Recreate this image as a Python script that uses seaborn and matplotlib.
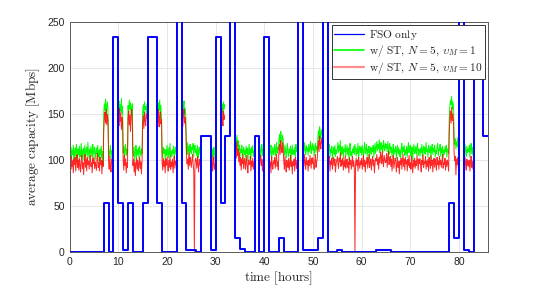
import numpy as np
import pandas as pd
import matplotlib
matplotlib.use('Agg')
import matplotlib.pyplot as plt
from matplotlib.lines import Line2D
import seaborn as sns

N = None
gap = [N] * 8  # one hour not shown

# FSO only capacity, one value per hour (steps), 400 = above the plotted range
fso_hourly = [0, 0, 0, 0, 0, 0, 0, 53, 0, 233,
              53, 3, 53, 0, 0, 53, 233, 233, 53, 0,
              0, 0, 400, 53, 3, 3, 0, 126, 126, 3,
              233, 53, 126, 400, 16, 4, 0, 0, 126, 0,
              233, 0, 0, 16, 0, 0, 0, 400, 3, 3,
              3, 16, 400, 0, 0, 3, 0, 0, 0, 0,
              0, 0, 0, 3, 3, 3, 0, 0, 0, 0,
              0, 0, 0, 0, 0, 0, 0, 0, 53, 16,
              400, 3, 0, 233, 233, 126]

# w/ ST, N=5, v_M=1 -- eight samples per hour, one row per hour
green_vals = [
    0, 109, 114, 103, 111, 106, 116, 101,       # 0 h
    108, 113, 104, 117, 110, 99, 112, 106,
    115, 103, 109, 118, 105, 111, 100, 113,
    107, 116, 102, 110, 114, 104, 119, 108,
    101, 112, 106, 115, 109, 103, 117, 111,
    105, 114, 108, 100, 113, 107, 116, 104,
    110, 98, 112, 106, 115, 102, 109, 95,
    150, 161, 154, 166, 148, 158, 163, 152,
    112, 104, 109, 116, 101, 110, 106, 113,
    *gap,
    156, 164, 149, 160, 153, 167, 151, 158,     # 10 h
    108, 115, 103, 111, 117, 105, 112, 107,
    159, 151, 165, 155, 162, 148, 157, 161,
    110, 104, 114, 99, 108, 116, 102, 111,
    106, 113, 101, 115, 109, 104, 112, 107,
    152, 160, 147, 163, 155, 158, 150, 161,
    *gap,
    *gap,
    157, 149, 162, 154, 165, 151, 159, 146,
    109, 103, 114, 107, 112, 100, 111, 105,
    116, 108, 102, 113, 106, 118, 104, 110,     # 20 h
    103, 111, 107, 115, 101, 109, 114, 106,
    *gap,
    153, 161, 148, 158, 164, 150, 156, 146,
    113, 106, 119, 109, 115, 104, 117, 110,
    107, 114, 111, 118, 103, 112, 116, 108,
    111, 105, 116, 102, 110, 114, 106, 112,
    *gap,
    *gap,
    109, 116, 104, 112, 100, 114, 107, 103,
    *gap,                                       # 30 h
    158, 166, 152, 161, 149, 163, 155, 160,
    *gap,
    *gap,
    118, 124, 112, 127, 115, 121, 110, 116,
    104, 112, 108, 116, 101, 110, 114, 106,
    111, 103, 115, 107, 113, 99, 109, 117,
    106, 112, 101, 114, 108, 116, 104, 110,
    *gap,
    107, 115, 102, 111, 117, 105, 112, 109,
    *gap,                                       # 40 h
    113, 104, 110, 116, 101, 108, 114, 106,
    109, 117, 105, 112, 119, 107, 114, 111,
    121, 128, 116, 131, 124, 119, 127, 122,
    113, 105, 116, 109, 102, 111, 118, 107,
    104, 112, 108, 115, 100, 110, 116, 106,
    111, 106, 114, 103, 117, 109, 112, 105,
    *gap,
    115, 108, 119, 111, 106, 116, 110, 113,
    105, 117, 109, 114, 120, 107, 112, 118,
    110, 116, 104, 113, 118, 108, 115, 111,     # 50 h
    125, 132, 121, 136, 128, 123, 133, 127,
    *gap,
    114, 106, 111, 117, 103, 112, 108, 115,
    101, 109, 114, 106, 116, 104, 111, 107,
    112, 119, 108, 116, 110, 121, 105, 114,
    107, 115, 102, 112, 109, 117, 104, 110,
    116, 106, 113, 100, 111, 118, 105, 109,
    103, 112, 108, 115, 106, 117, 110, 104,
    113, 107, 118, 102, 111, 115, 108, 114,
    105, 116, 110, 103, 113, 119, 107, 111,     # 60 h
    117, 104, 112, 108, 115, 101, 110, 114,
    106, 113, 109, 116, 103, 111, 118, 107,
    114, 120, 110, 117, 112, 122, 108, 116,
    119, 111, 116, 108, 121, 114, 110, 118,
    113, 117, 109, 120, 112, 106, 118, 115,
    108, 114, 103, 111, 117, 106, 112, 109,
    115, 101, 110, 116, 107, 113, 104, 111,
    102, 112, 118, 106, 114, 109, 116, 105,
    111, 107, 115, 103, 112, 119, 108, 113,
    116, 104, 110, 114, 100, 111, 117, 107,     # 70 h
    109, 115, 106, 113, 118, 105, 112, 110,
    104, 113, 108, 117, 102, 111, 115, 107,
    114, 106, 119, 109, 112, 103, 116, 110,
    108, 115, 101, 112, 117, 106, 113, 109,
    116, 103, 111, 107, 114, 118, 105, 112,
    110, 117, 104, 113, 108, 115, 102, 111,
    106, 114, 109, 116, 103, 112, 110, 107,
    146, 158, 165, 160, 169, 155, 163, 158,
    128, 117, 123, 112, 120, 115, 124, 110,
    *gap,                                       # 80 h
    113, 106, 117, 110, 104, 115, 108, 112,
    109, 116, 103, 112, 118, 107, 114, 105,
    *gap,
    *gap,
    *gap,
]

# w/ ST, N=5, v_M=10 -- eight samples per hour, one row per hour
red_vals = [
    0, 97, 90, 104, 93, 99, 86, 101,            # 0 h
    95, 103, 88, 98, 106, 92, 100, 89,
    102, 94, 87, 99, 105, 91, 97, 84,
    98, 106, 92, 101, 88, 103, 95, 99,
    90, 100, 105, 93, 97, 86, 102, 96,
    104, 91, 98, 94, 89, 101, 107, 92,
    97, 88, 103, 95, 100, 85, 99, 93,
    131, 145, 152, 140, 155, 138, 149, 143,
    98, 90, 104, 93, 87, 101, 96, 102,
    *gap,
    148, 137, 156, 142, 151, 133, 146, 140,     # 10 h
    99, 89, 105, 94, 101, 86, 97, 92,
    145, 153, 138, 149, 131, 147, 155, 141,
    94, 101, 87, 98, 83, 96, 102, 90,
    100, 88, 96, 103, 91, 98, 85, 99,
    139, 148, 134, 152, 143, 137, 150, 145,
    *gap,
    *gap,
    150, 141, 155, 136, 147, 152, 139, 144,
    97, 89, 102, 93, 99, 86, 101, 94,
    103, 95, 88, 100, 92, 105, 90, 98,          # 20 h
    93, 101, 86, 97, 104, 91, 99, 95,
    *gap,
    144, 151, 136, 148, 155, 140, 146, 133,
    105, 96, 101, 90, 108, 94, 103, 98,
    92, 100, 106, 95, 89, 0, 97, 102,
    99, 91, 104, 95, 87, 101, 96, 93,
    *gap,
    *gap,
    100, 92, 105, 88, 97, 103, 90, 95,
    *gap,                                       # 30 h
    150, 141, 157, 146, 137, 153, 144, 148,
    *gap,
    *gap,
    109, 116, 102, 120, 105, 112, 98, 108,
    94, 103, 89, 101, 96, 106, 91, 99,
    102, 90, 97, 105, 92, 86, 100, 95,
    96, 104, 88, 99, 93, 102, 90, 98,
    *gap,
    91, 99, 105, 94, 101, 88, 97, 103,
    *gap,                                       # 40 h
    101, 92, 98, 86, 104, 95, 90, 99,
    96, 103, 91, 100, 106, 93, 98, 89,
    110, 117, 106, 121, 113, 108, 119, 112,
    98, 90, 104, 94, 87, 100, 96, 92,
    102, 89, 97, 105, 93, 99, 85, 98,
    94, 101, 88, 103, 96, 91, 100, 95,
    *gap,
    101, 93, 106, 97, 90, 103, 95, 99,
    88, 100, 94, 105, 98, 91, 102, 96,
    103, 95, 90, 99, 106, 92, 98, 101,          # 50 h
    113, 121, 109, 126, 117, 112, 123, 118,
    *gap,
    100, 92, 97, 104, 88, 99, 95, 102,
    90, 98, 103, 94, 101, 87, 96, 99,
    104, 96, 91, 102, 98, 108, 93, 100,
    95, 102, 89, 99, 93, 105, 91, 97,
    101, 92, 98, 86, 103, 95, 100, 90,
    97, 104, 93, 99, 91, 0, 96, 102,
    94, 100, 88, 103, 96, 91, 99, 95,
    102, 90, 97, 105, 93, 100, 87, 98,          # 60 h
    96, 103, 91, 99, 106, 92, 97, 101,
    89, 98, 104, 94, 100, 86, 96, 102,
    99, 106, 95, 101, 90, 103, 97, 108,
    104, 96, 110, 99, 93, 105, 101, 97,
    98, 107, 92, 103, 109, 95, 100, 104,
    93, 101, 88, 99, 105, 91, 97, 102,
    100, 87, 96, 103, 92, 98, 85, 99,
    95, 102, 90, 98, 106, 93, 101, 89,
    103, 96, 99, 88, 101, 94, 105, 92,
    97, 90, 104, 95, 86, 100, 93, 102,          # 70 h
    91, 99, 94, 105, 98, 89, 101, 96,
    102, 93, 87, 100, 95, 106, 92, 98,
    96, 104, 90, 99, 93, 101, 88, 103,
    99, 91, 105, 94, 100, 87, 97, 102,
    92, 101, 96, 89, 103, 95, 99, 90,
    104, 95, 100, 92, 98, 106, 91, 97,
    95, 102, 89, 99, 93, 100, 96, 88,
    128, 146, 153, 140, 157, 143, 150, 139,
    108, 99, 104, 84, 101, 95, 103, 92,
    *gap,                                       # 80 h
    98, 91, 103, 95, 89, 101, 94, 99,
    93, 100, 88, 97, 104, 92, 99, 90,
    *gap,
    *gap,
    *gap,
]

labels = ['$\\mathrm{FSO\\ only}$',
          '$\\mathrm{w/\\ ST,}\\,N=5,\\,\\upsilon_M=1$',
          '$\\mathrm{w/\\ ST,}\\,N=5,\\,\\upsilon_M=10$']

# step data (repeat the last hour so the step reaches the end)
fso = pd.DataFrame({'t': np.arange(len(fso_hourly) + 1),
                    'cap': fso_hourly + fso_hourly[-1:]})

t = np.arange(len(green_vals)) / 8.0
st = pd.DataFrame({'t': t,
                   'green': pd.to_numeric(pd.Series(green_vals), errors='coerce'),
                   'red': pd.to_numeric(pd.Series(red_vals), errors='coerce')})
# separate runs between the gaps
st['seg'] = st['green'].isna().cumsum()

sns.set_style('white')
plt.rcParams['mathtext.fontset'] = 'cm'
plt.rcParams['font.family'] = ['Liberation Sans', 'DejaVu Sans']

fig = plt.figure(figsize=(5.4, 2.88), dpi=100)
ax = fig.add_axes([0.129, 0.124, 0.775, 0.801])

g = st.dropna(subset=['green'])
sns.lineplot(data=g, x='t', y='green', units='seg', estimator=None,
             color=(0, 1, 0), lw=0.7, ax=ax, zorder=2)
r = st.dropna(subset=['red'])
sns.lineplot(data=r, x='t', y='red', units='seg', estimator=None,
             color=(1, 0, 0), lw=0.7, alpha=0.85, ax=ax, zorder=2.1)
sns.lineplot(data=fso, x='t', y='cap', drawstyle='steps-post',
             color=(0, 0, 1), lw=1.4, ax=ax, zorder=3)

ax.set_xlim(0, 86)
ax.set_ylim(0, 250)
ax.set_xticks(range(0, 81, 10))
ax.set_yticks(range(0, 251, 50))
ax.grid(True, color='#e2e2e2', lw=0.6)
ax.set_axisbelow(True)
ax.tick_params(direction='in', length=3, width=0.6, labelsize=7.5,
               colors='#404040', labelcolor='#262626')
for s in ax.spines.values():
    s.set_color('#5a5a5a')
    s.set_linewidth(0.7)

ax.set_xlabel('$\\mathrm{time\\ [hours]}$', fontsize=9.5, labelpad=2)
ax.set_ylabel('$\\mathrm{average\\ capacity\\ [Mbps]}$', fontsize=9.5, labelpad=4)

handles = [Line2D([], [], color=(0, 0, 1), lw=0.9),
           Line2D([], [], color=(0, 1, 0), lw=1.2),
           Line2D([], [], color=(1, 0.55, 0.55), lw=1.6)]
leg = ax.legend(handles, labels, loc='upper right', fontsize=8.2,
                fancybox=False, framealpha=1, edgecolor='#333333',
                borderaxespad=0.3, handlelength=2.6, labelspacing=0.1,
                borderpad=0.25, handletextpad=0.4)
leg.get_frame().set_linewidth(0.7)
leg.set_zorder(5)

plt.savefig('out.png', dpi=100)
